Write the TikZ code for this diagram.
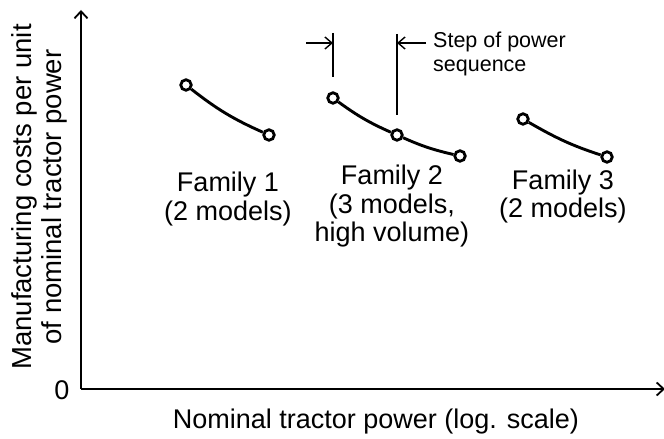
\documentclass[tikz,border=0pt]{standalone}
\usepackage{fontspec}
\setmainfont{Liberation Sans}
\usetikzlibrary{arrows.meta}
\begin{document}
\begin{tikzpicture}[x=1pt,y=1pt,
  lbl/.style={font=\fontsize{27}{28.5}\selectfont, align=center, inner sep=0pt},
  pt/.style={circle, draw, fill=white, line width=2.8pt, minimum size=10.5pt, inner sep=0pt},
  curve/.style={line width=2.9pt},
  axis/.style={line width=1.8pt, -{Straight Barb[length=7pt,width=13pt,line width=1.8pt]}},
  stepline/.style={line width=1.4pt},
  steparrow/.style={line width=1.4pt, -{Straight Barb[length=7pt,width=12pt,line width=1.4pt]}}]
\useasboundingbox (0,0) rectangle (664,439);
% axes
\coordinate (O) at (81,50);
\coordinate (ytop) at (81,429);
\coordinate (xend) at (665,50);
\draw[axis] (O) -- (ytop);
\draw[axis] (O) -- (xend);
\node[lbl, anchor=center] (zero) at (62,49) {0};
\node[lbl, rotate=90, font=\fontsize{27.5}{30}\selectfont] (ylab) at (39,242) {Manufacturing costs per unit\\of nominal tractor power};
\node[lbl, anchor=base] (xlab) at (376,10) {Nominal tractor power (log. scale)};
% family 1
\node[pt] (f1a) at (186,354) {};
\node[pt] (f1b) at (269,304) {};
\draw[curve] (f1a) to[out=-38,in=156] (f1b);
% family 2
\node[pt] (f2a) at (333,341) {};
\node[pt] (f2b) at (397,304) {};
\node[pt] (f2c) at (460,283) {};
\draw[curve] (f2a) to[out=-36,in=156] (f2b);
\draw[curve] (f2b) to[out=-24,in=167] (f2c);
% family 3
\node[pt] (f3a) at (523,320) {};
\node[pt] (f3b) at (607,282) {};
\draw[curve] (f3a) to[out=-30,in=162] (f3b);
% labels
\node[lbl] (l1) at (228,240) {Family 1\\(2 models)};
\node[lbl] (l2) at (392,232.5) {Family 2\\(3 models,\\high volume)};
\node[lbl] (l3) at (563,242.5) {Family 3\\(2 models)};
% step of power sequence
\coordinate (s1t) at (333,406);
\coordinate (s1b) at (333,362);
\coordinate (s2t) at (397,405);
\coordinate (s2b) at (397,324);
\coordinate (s1a) at (333,396);
\coordinate (s2a) at (397,396);
\coordinate (s1s) at (306,396);
\coordinate (s2s) at (426,396);
\draw[stepline] (s1t) -- (s1b);
\draw[stepline] (s2t) -- (s2b);
\draw[steparrow] (s1s) -- (s1a);
\draw[steparrow] (s2s) -- (s2a);
\node[font=\fontsize{21.5}{24}\selectfont, align=left, anchor=base west, inner sep=0pt] (steptxt) at (433,367) {Step of power\\sequence};
\end{tikzpicture}
\end{document}
